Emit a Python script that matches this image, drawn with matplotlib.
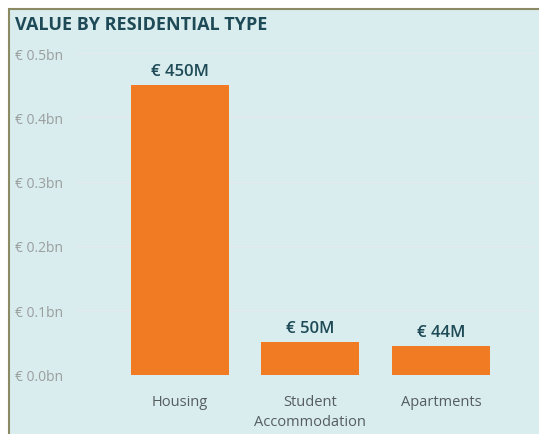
import matplotlib.pyplot as plt
from matplotlib.patches import Rectangle

categories = ['Housing', 'Student\nAccommodation', 'Apartments']
values_bn = [0.450, 0.050, 0.044]
value_labels = ['€ 450M', '€ 50M', '€ 44M']
yticks = [0.0, 0.1, 0.2, 0.3, 0.4, 0.5]

W, H = 539, 435
fig = plt.figure(figsize=(W / 100, H / 100), dpi=100)
fig.patch.set_facecolor('white')

# panel background with olive border (top and left visible)
panel = Rectangle((9 / W, -0.05), 1.1, (H - 10) / H + 0.05,
                  transform=fig.transFigure, facecolor='#d9ecee',
                  edgecolor='#8c8a62', linewidth=1.5, zorder=-10)
fig.patches.append(panel)

fig.text(15 / W, 1 - 25 / H, 'VALUE BY RESIDENTIAL TYPE', fontsize=13,
         fontweight='bold', color='#1d4a56', va='center', ha='left',
         family='Open Sans')

ax = fig.add_axes([75 / W, 59.5 / H, 460 / W, 321.5 / H])
ax.set_facecolor('none')
x = list(range(len(categories)))
bars = ax.bar(x, values_bn, width=0.75, color='#f07b22', zorder=2)
for b, lab in zip(bars, value_labels):
    ax.annotate(lab, (b.get_x() + b.get_width() / 2, b.get_height()),
                xytext=(0, 7.5), textcoords='offset points',
                ha='center', va='baseline', fontsize=12, fontweight='semibold',
                color='#1d4a56', family='Open Sans')

ax.set_xlim(-0.80, 2.72)
ax.set_ylim(0, 0.5)
ax.set_yticks(yticks)
ax.set_yticklabels([f'€ {v:.1f}bn' for v in yticks], fontsize=10,
                   color='#9a9e9e', family='Open Sans')
for lbl in ax.get_yticklabels():
    lbl.set_horizontalalignment('left')
ax.tick_params(axis='y', length=0, pad=43)
ax.set_xticks(x)
ax.set_xticklabels(categories, fontsize=10.5, color='#555d5f',
                   family='Open Sans', linespacing=1.5)
ax.tick_params(axis='x', length=0, pad=14)
ax.grid(axis='y', color='#e3ebed', linewidth=1, zorder=0)
ax.set_axisbelow(True)
for s in ax.spines.values():
    s.set_visible(False)

fig.savefig('out.png', dpi=100)
